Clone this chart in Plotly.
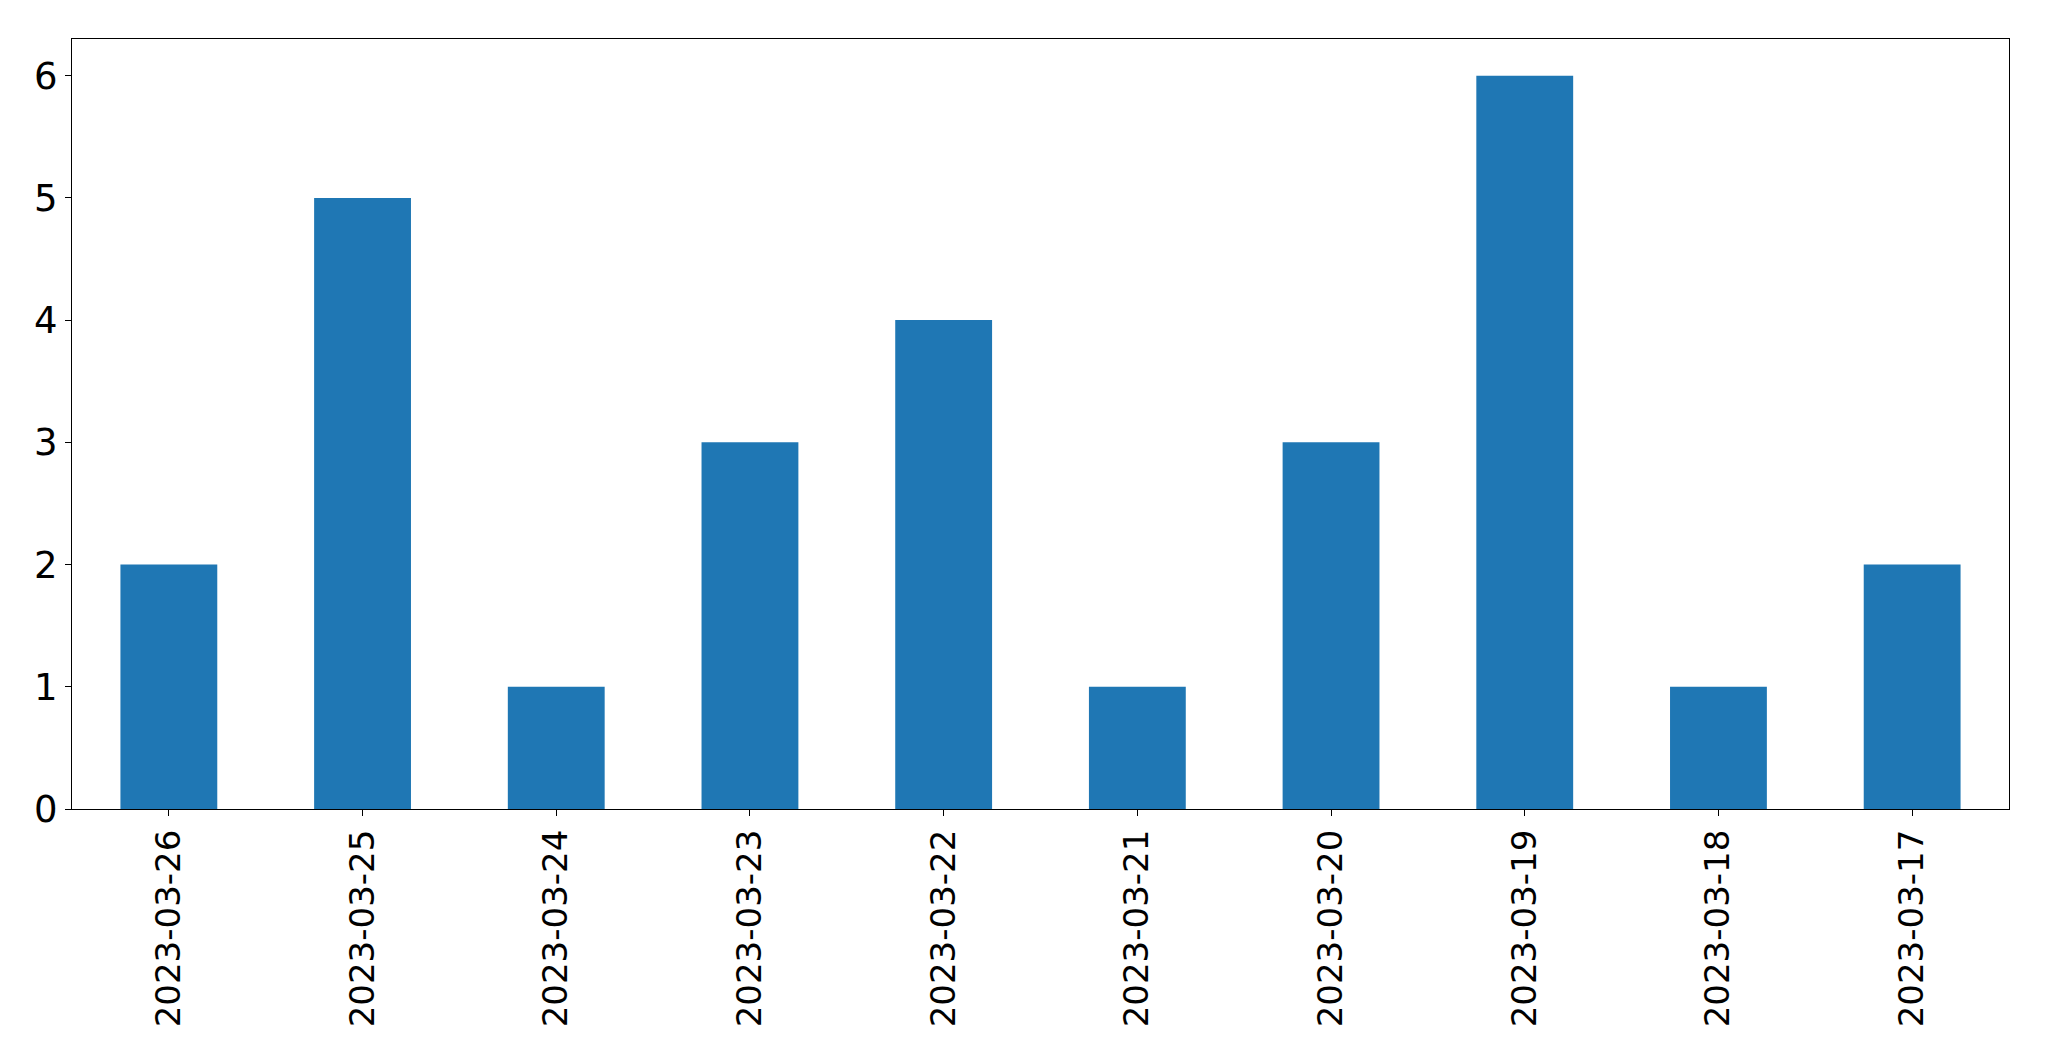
import plotly.graph_objects as go

dates = ["2023-03-26", "2023-03-25", "2023-03-24", "2023-03-23", "2023-03-22",
         "2023-03-21", "2023-03-20", "2023-03-19", "2023-03-18", "2023-03-17"]
counts = [2, 5, 1, 3, 4, 1, 3, 6, 1, 2]
y_ticks = [0, 1, 2, 3, 4, 5, 6]

fig = go.Figure(go.Bar(x=dates, y=counts, width=0.5, marker=dict(color="#1f77b4", line=dict(width=0))))

xfont = dict(family="DejaVu Sans", size=34, color="black")
yfont = dict(family="DejaVu Sans", size=37, color="black")
fig.update_layout(
    width=2049, height=1061,
    margin=dict(l=64, r=48, t=31, b=260, autoexpand=False),
    paper_bgcolor="white", plot_bgcolor="white",
    showlegend=False,
    font=xfont,
)
fig.update_xaxes(
    type="category", range=[-0.5, 9.5], tickangle=-90, automargin=False,
    showline=True, linecolor="black", linewidth=1.2, mirror=True,
    ticks="outside", ticklen=6, tickwidth=1.2, tickcolor="black",
    showgrid=False, zeroline=False, tickfont=xfont,
)
fig.update_yaxes(
    range=[0, 6.3], tickvals=y_ticks, ticktext=[str(v) for v in y_ticks], automargin=False,
    showline=True, linecolor="black", linewidth=1.2, mirror=True,
    ticks="outside", ticklen=6, tickwidth=1.2, tickcolor="black",
    showgrid=False, zeroline=False, tickfont=yfont,
)
fig.write_html("out.html")
